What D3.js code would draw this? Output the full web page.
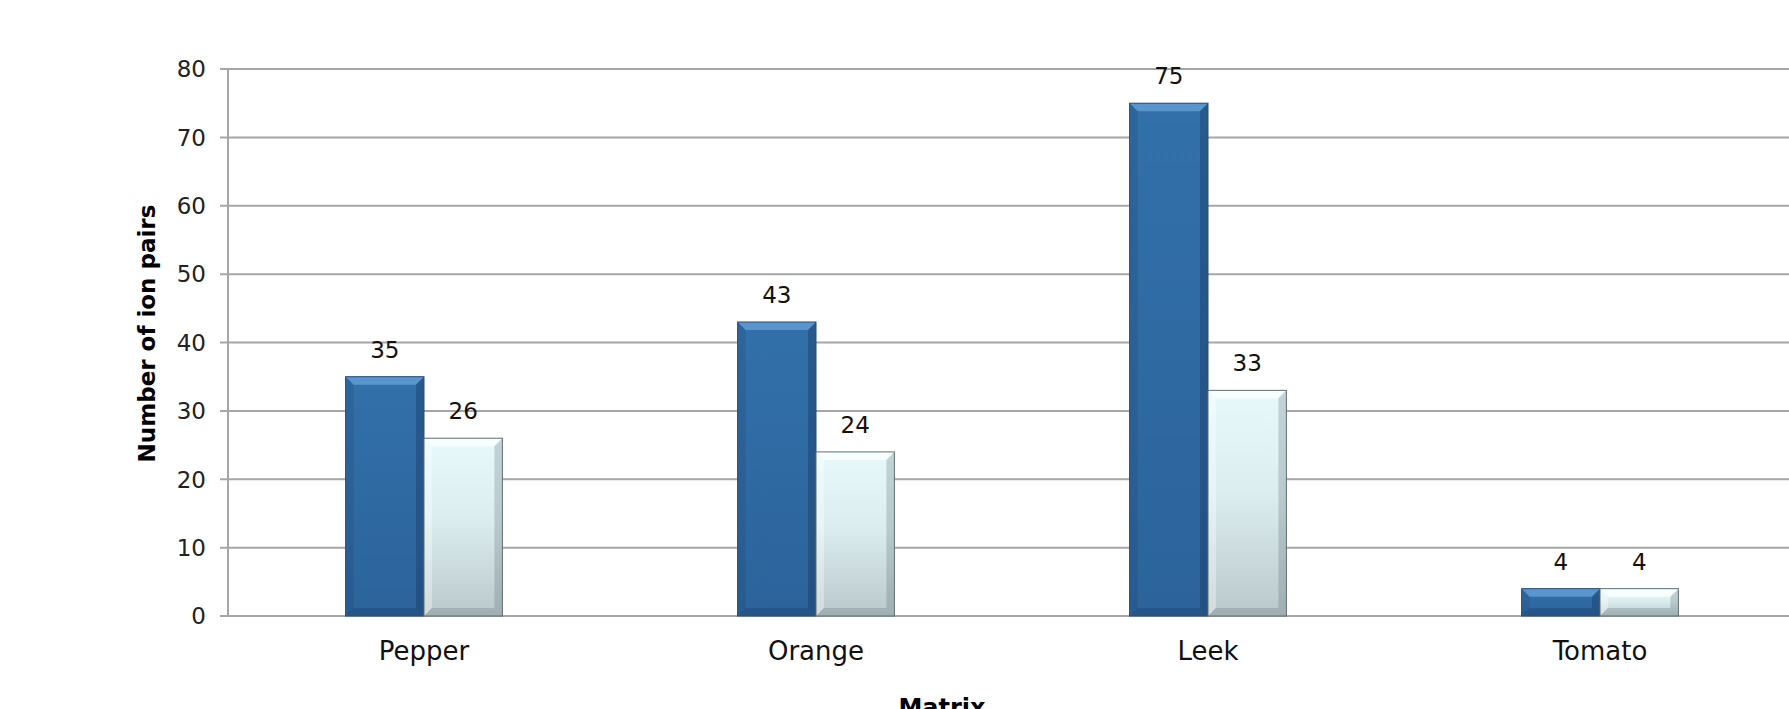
<!DOCTYPE html>
<html>
<head>
<meta charset="utf-8">
<script src="https://cdn.jsdelivr.net/npm/d3@7"></script>
<style>
  body { margin: 0; background: #fff; }
  svg { display: block; }
</style>
</head>
<body>
<div id="chart"></div>
<script>
// Chart data
const categories = ['Pepper', 'Orange', 'Leek', 'Tomato'];
const seriesA = [35, 43, 75, 4];
const seriesB = [26, 24, 33, 4];
const yTicks = [0, 10, 20, 30, 40, 50, 60, 70, 80];

const width = 1789;
const height = 709;
const FONT = "'DejaVu Sans', sans-serif";

const svg = d3.select('#chart')
    .append('svg')
    .attr('width', width)
    .attr('height', height);

// plot area (the right part runs past the picture edge)
const margin = { left: 228, right: 1796, top: 69, bottom: 616 };

const x = d3.scaleBand()
    .domain(categories)
    .range([margin.left, margin.right])
    .paddingInner(0.6)
    .paddingOuter(0.3);

const xSub = d3.scaleBand()
    .domain(['a', 'b'])
    .range([0, x.bandwidth()]);

const y = d3.scaleLinear()
    .domain([0, 80])
    .range([margin.bottom, margin.top]);

// gradients
const defs = svg.append('defs');
const gA = defs.append('linearGradient').attr('id', 'gradA')
    .attr('x1', 0).attr('y1', 0).attr('x2', 0).attr('y2', 1);
gA.append('stop').attr('offset', '0%').attr('stop-color', '#3270aa');
gA.append('stop').attr('offset', '100%').attr('stop-color', '#2c639b');

const gB = defs.append('linearGradient').attr('id', 'gradB')
    .attr('x1', 0).attr('y1', 0).attr('x2', 0).attr('y2', 1);
gB.append('stop').attr('offset', '0%').attr('stop-color', '#e8f9fc');
gB.append('stop').attr('offset', '45%').attr('stop-color', '#dcedf0');
gB.append('stop').attr('offset', '100%').attr('stop-color', '#b9c8cb');

// gridlines
svg.append('g')
    .selectAll('line')
    .data(yTicks)
    .join('line')
    .attr('x1', margin.left - 8)
    .attr('x2', width)
    .attr('y1', d => y(d))
    .attr('y2', d => y(d))
    .style('stroke', '#a6a6a6')
    .style('stroke-width', 2);

// y axis line
svg.append('line')
    .attr('x1', margin.left).attr('x2', margin.left)
    .attr('y1', margin.top).attr('y2', margin.bottom)
    .style('stroke', '#a6a6a6')
    .style('stroke-width', 2);

// y tick labels
svg.append('g')
    .selectAll('text')
    .data(yTicks)
    .join('text')
    .attr('x', margin.left - 22)
    .attr('y', d => y(d))
    .attr('dy', '0.36em')
    .attr('text-anchor', 'end')
    .style('font-family', FONT)
    .style('font-size', '23px')
    .style('fill', '#222')
    .text(d => d);

// bevelled bar
function drawBar(g, x0, w, v, style) {
    const x1 = x0 + w;
    const y0 = y(v), y1 = y(0);
    const b = Math.min(8, (y1 - y0) / 2.5);
    g.append('rect')
        .attr('x', x0).attr('y', y0)
        .attr('width', w).attr('height', y1 - y0)
        .style('fill', style.fill);
    const poly = (pts, fill) => g.append('polygon')
        .attr('points', pts.map(p => p.join(',')).join(' '))
        .style('fill', fill);
    poly([[x0, y0], [x1, y0], [x1 - b, y0 + b], [x0 + b, y0 + b]], style.top);
    poly([[x0, y0], [x0 + b, y0 + b], [x0 + b, y1 - b], [x0, y1]], style.left);
    poly([[x1, y0], [x1, y1], [x1 - b, y1 - b], [x1 - b, y0 + b]], style.right);
    poly([[x0, y1], [x1, y1], [x1 - b, y1 - b], [x0 + b, y1 - b]], style.bottom);
    g.append('rect')
        .attr('x', x0).attr('y', y0)
        .attr('width', w).attr('height', y1 - y0)
        .style('fill', 'none')
        .style('stroke', style.edge)
        .style('stroke-width', 1);
}

const styleA = {
    fill: 'url(#gradA)', top: '#5a95cd', left: 'rgba(20,50,90,0.15)',
    right: 'rgba(15,40,75,0.3)', bottom: 'rgba(15,40,75,0.25)', edge: '#254f7c'
};
const styleB = {
    fill: 'url(#gradB)', top: '#f6feff', left: 'rgba(255,255,255,0.35)',
    right: 'rgba(80,100,105,0.25)', bottom: 'rgba(80,100,105,0.25)', edge: '#5f6e72'
};

const bars = svg.append('g');
categories.forEach((c, i) => {
    drawBar(bars, x(c) + xSub('a'), xSub.bandwidth(), seriesA[i], styleA);
    drawBar(bars, x(c) + xSub('b'), xSub.bandwidth(), seriesB[i], styleB);
});

// value labels
const labels = svg.append('g')
    .style('font-family', FONT)
    .style('font-size', '23px')
    .style('fill', '#111')
    .attr('text-anchor', 'middle');
categories.forEach((c, i) => {
    labels.append('text')
        .attr('x', x(c) + xSub('a') + xSub.bandwidth() / 2)
        .attr('y', y(seriesA[i]) - 19)
        .text(seriesA[i]);
    labels.append('text')
        .attr('x', x(c) + xSub('b') + xSub.bandwidth() / 2)
        .attr('y', y(seriesB[i]) - 19)
        .text(seriesB[i]);
});

// category labels
svg.append('g')
    .selectAll('text')
    .data(categories)
    .join('text')
    .attr('x', d => x(d) + x.bandwidth() / 2)
    .attr('y', 660)
    .attr('text-anchor', 'middle')
    .style('font-family', FONT)
    .style('font-size', '26px')
    .style('fill', '#111')
    .text(d => d);

// axis titles
svg.append('text')
    .attr('transform', `translate(155, ${(margin.top + margin.bottom) / 2 - 9}) rotate(-90)`)
    .attr('text-anchor', 'middle')
    .style('font-family', FONT)
    .style('font-size', '23px')
    .style('font-weight', 'bold')
    .style('fill', '#000')
    .text('Number of ion pairs');

svg.append('text')
    .attr('x', 942)
    .attr('y', 716)
    .attr('text-anchor', 'middle')
    .style('font-family', FONT)
    .style('font-size', '24px')
    .style('font-weight', 'bold')
    .style('fill', '#000')
    .text('Matrix');
</script>
</body>
</html>
